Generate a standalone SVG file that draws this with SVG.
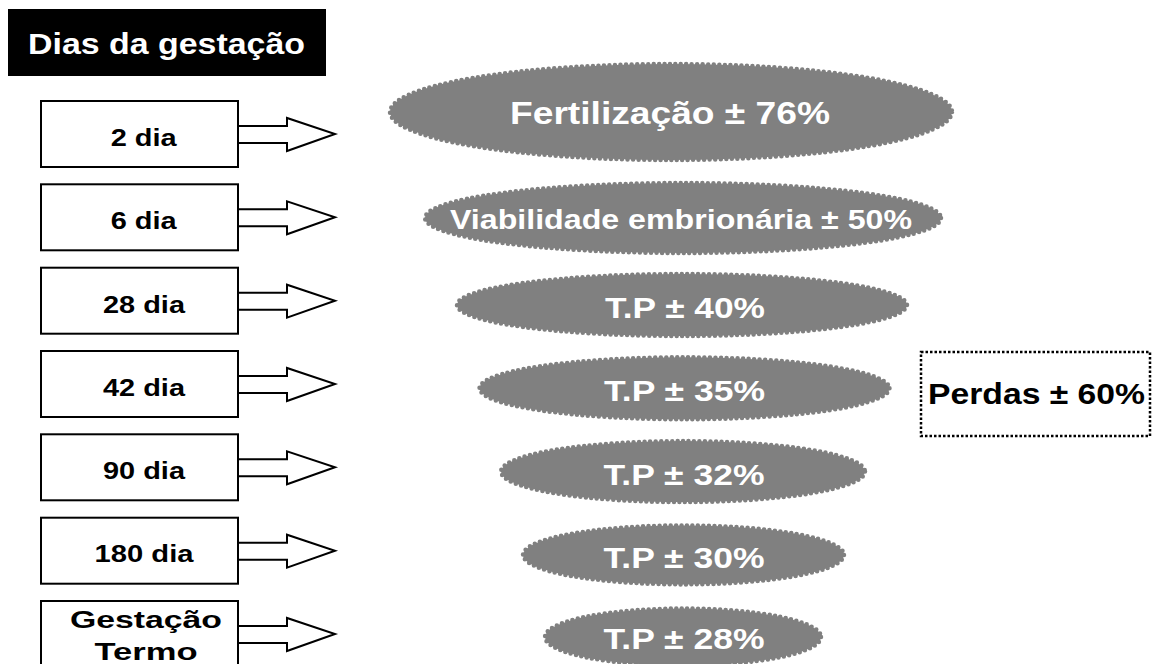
<svg xmlns="http://www.w3.org/2000/svg" width="1159" height="664" viewBox="0 0 1159 664">
<style>
.box{fill:#fff;stroke:#000;stroke-width:2}
.arr{fill:#fff;stroke:#000;stroke-width:2;stroke-linejoin:miter}
.bt{font-family:"Liberation Sans",Arial,sans-serif;font-weight:bold;font-size:23px;fill:#000;text-anchor:middle}
.ell{fill:#808080;stroke:#808080;stroke-width:4.5;stroke-dasharray:0 5.5;stroke-linecap:round}
.et{font-family:"Liberation Sans",Arial,sans-serif;font-weight:bold;fill:#fff;text-anchor:middle}
</style>
<rect width="1159" height="664" fill="#fff"/>
<g id="title">
<rect x="8" y="9" width="318" height="67" fill="#000"/>
<text x="28" y="54" font-family="Liberation Sans, Arial, sans-serif" font-weight="bold" font-size="30" fill="#fff" textLength="277" lengthAdjust="spacingAndGlyphs">Dias da gestação</text>
</g>
<g id="connectors">
<path class="arr" d="M238 126 H287 V118 L335 134 L287 151 V143 H238"/>
<path class="arr" d="M238 209.3 H287 V201.3 L335 217.3 L287 234.3 V226.3 H238"/>
<path class="arr" d="M238 292.7 H287 V284.7 L335 300.7 L287 317.7 V309.7 H238"/>
<path class="arr" d="M238 376 H287 V368 L335 384 L287 401 V393 H238"/>
<path class="arr" d="M238 459.3 H287 V451.3 L335 467.3 L287 484.3 V476.3 H238"/>
<path class="arr" d="M238 542.7 H287 V534.7 L335 550.7 L287 567.7 V559.7 H238"/>
<path class="arr" d="M238 626 H287 V618 L335 634 L287 651 V643 H238"/>
</g>
<g id="d2"><rect class="box" x="41" y="101" width="197" height="66"/><text class="bt" x="143.7" y="146" textLength="66" lengthAdjust="spacingAndGlyphs">2 dia</text></g>
<g id="d6"><rect class="box" x="41" y="184.3" width="197" height="66"/><text class="bt" x="143.7" y="229.3" textLength="66" lengthAdjust="spacingAndGlyphs">6 dia</text></g>
<g id="d28"><rect class="box" x="41" y="267.7" width="197" height="66"/><text class="bt" x="144" y="312.7" textLength="82" lengthAdjust="spacingAndGlyphs">28 dia</text></g>
<g id="d42"><rect class="box" x="41" y="351" width="197" height="66"/><text class="bt" x="144" y="396" textLength="82" lengthAdjust="spacingAndGlyphs">42 dia</text></g>
<g id="d90"><rect class="box" x="41" y="434.3" width="197" height="66"/><text class="bt" x="144" y="479.3" textLength="82" lengthAdjust="spacingAndGlyphs">90 dia</text></g>
<g id="d180"><rect class="box" x="41" y="517.7" width="197" height="66"/><text class="bt" x="144" y="561.5" textLength="99" lengthAdjust="spacingAndGlyphs">180 dia</text></g>
<g id="dterm"><rect class="box" x="41" y="601" width="197" height="80"/>
<text class="bt" x="146" y="628" font-size="25" textLength="152" lengthAdjust="spacingAndGlyphs">Gestação</text>
<text class="bt" x="146" y="660" font-size="25" textLength="103" lengthAdjust="spacingAndGlyphs">Termo</text></g>
<g id="e1"><ellipse class="ell" cx="671" cy="112" rx="281" ry="48"/><text class="et" x="670" y="124" font-size="31" textLength="320" lengthAdjust="spacingAndGlyphs">Fertilização ± 76%</text></g>
<g id="e2"><ellipse class="ell" cx="683" cy="218" rx="258" ry="35"/><text class="et" x="681" y="229" font-size="28" textLength="462" lengthAdjust="spacingAndGlyphs">Viabilidade embrionária ± 50%</text></g>
<g id="e3"><ellipse class="ell" cx="682" cy="305" rx="225" ry="31"/><text class="et" x="685" y="318" font-size="30" textLength="160" lengthAdjust="spacingAndGlyphs">T.P ± 40%</text></g>
<g id="e4"><ellipse class="ell" cx="684.5" cy="388.3" rx="205" ry="31"/><text class="et" x="684.5" y="401.3" font-size="30" textLength="161" lengthAdjust="spacingAndGlyphs">T.P ± 35%</text></g>
<g id="e5"><ellipse class="ell" cx="683" cy="471.6" rx="182" ry="30.5"/><text class="et" x="684" y="484.6" font-size="30" textLength="161" lengthAdjust="spacingAndGlyphs">T.P ± 32%</text></g>
<g id="e6"><ellipse class="ell" cx="683.5" cy="554.9" rx="160.5" ry="29.5"/><text class="et" x="684" y="567.9" font-size="30" textLength="161" lengthAdjust="spacingAndGlyphs">T.P ± 30%</text></g>
<g id="e7"><ellipse class="ell" cx="683" cy="637" rx="138" ry="28.5"/><text class="et" x="684" y="649" font-size="30" textLength="161" lengthAdjust="spacingAndGlyphs">T.P ± 28%</text></g>
<g id="perdas">
<rect x="921" y="352" width="229" height="84" fill="none" stroke="#000" stroke-width="2.5" stroke-dasharray="2.5 2"/>
<text x="928" y="404" font-family="Liberation Sans, Arial, sans-serif" font-weight="bold" font-size="30" fill="#000" textLength="217" lengthAdjust="spacingAndGlyphs">Perdas ± 60%</text>
</g>
</svg>
